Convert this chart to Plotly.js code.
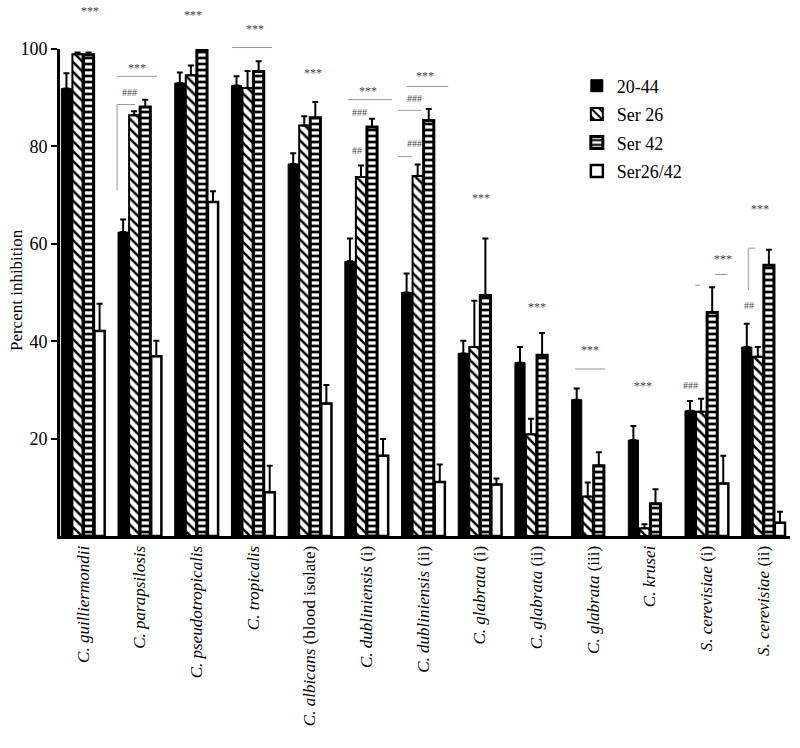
<!DOCTYPE html>
<html>
<head>
<meta charset="utf-8">
<script src="https://cdn.plot.ly/plotly-3.0.1.min.js"></script>
<style>html,body{margin:0;padding:0;background:#fff;}#chart{width:800px;height:748px;}</style>
</head>
<body>
<div id="chart"></div>
<script>
// ---- data ----
const categories = [
  "<i>C. guilliermondii</i>", "<i>C. parapsilosis</i>", "<i>C. pseudotropicalis</i>",
  "<i>C. tropicalis</i>", "<i>C. albicans</i> (blood isolate)", "<i>C. dubliniensis</i> (i)",
  "<i>C. dubliniensis</i> (ii)", "<i>C. glabrata</i> (i)", "<i>C. glabrata</i> (ii)",
  "<i>C. glabrata</i> (iii)", "<i>C. krusei</i>", "<i>S. cerevisiae</i> (i)", "<i>S. cerevisiae</i> (ii)"
];
const seriesNames = ["20-44", "Ser 26", "Ser 42", "Ser26/42"];
const val2044 = [91.9, 62.4, 93.0, 92.5, 76.4, 56.4, 50.0, 37.5, 35.6, 28.0, 19.7, 25.7, 38.8];
const err2044 = [3.1, 2.6, 2.2, 1.9, 2.2, 4.7, 3.9, 2.6, 3.2, 2.3, 2.9, 2.0, 4.8];
const valSer26 = [98.9, 86.4, 94.6, 92.0, 84.3, 73.7, 73.9, 38.8, 20.9, 8.1, 1.6, 25.5, 36.8];
const errSer26 = [0.4, 0.8, 2.0, 3.5, 1.9, 2.4, 2.4, 9.5, 3.2, 2.9, 0.8, 2.7, 2.0];
const valSer42 = [98.8, 88.1, 99.7, 95.4, 85.9, 84.0, 85.3, 49.4, 37.1, 14.4, 6.6, 45.9, 55.6];
const errSer42 = [0.5, 1.5, 0.0, 2.1, 3.2, 1.7, 2.4, 11.7, 4.6, 2.8, 3.0, 5.2, 3.2];
const valSer2642 = [42.1, 36.9, 68.6, 9.0, 27.2, 16.5, 11.1, 10.6, null, null, null, 10.8, 2.7];
const errSer2642 = [5.6, 3.2, 2.2, 5.4, 3.8, 3.4, 3.6, 1.2, null, null, null, 5.7, 2.3];
const yTicks = [20, 40, 60, 80, 100];
const yTitle = "Percent inhibition";

// significance marks: [text, category position, value]
const sigTexts = [
  ["***", 0.124, 107.9], ["***", 0.953, 96.2], ["###", 0.812, 91.1],
  ["***", 1.941, 106.9], ["***", 3.035, 104.2], ["***", 4.059, 95.0],
  ["***", 5.029, 91.3], ["###", 4.870, 87.0], ["##", 4.835, 79.2],
  ["***", 6.035, 94.4], ["###", 5.841, 89.8], ["###", 5.841, 80.6],
  ["***", 7.023, 69.5], ["***", 8.011, 47.0], ["***", 8.947, 38.2],
  ["***", 9.882, 30.8], ["###", 10.711, 31.0], ["***", 11.293, 56.8],
  ["##", 11.752, 47.4], ["***", 11.946, 67.1]
];
// significance lines: [x0, y0, x1, y1] in category position / value
const sigLines = [
  [0.600, 94.4, 1.306, 94.4], [0.600, 88.6, 0.600, 71.0], [0.600, 88.6, 0.918, 88.6],
  [2.629, 100.3, 3.335, 100.3], [4.676, 89.6, 5.453, 89.6], [5.717, 92.3, 6.441, 92.3],
  [5.559, 87.4, 5.964, 87.4], [5.559, 77.9, 5.806, 77.9], [8.682, 34.3, 9.211, 34.3],
  [11.152, 53.7, 11.364, 53.7], [10.800, 51.5, 10.888, 51.5],
  [11.735, 59.1, 11.735, 50.5], [11.735, 59.1, 11.858, 59.1]
];

// ---- chart ----
const FONT = "Liberation Serif";
const xr = [-0.406, 12.47];
const yr = [0, 100];
const px = c => (c - xr[0]) / (xr[1] - xr[0]);
const py = v => (v - yr[0]) / (yr[1] - yr[0]);

function errBar(arr) {
  return {type: "data", symmetric: false, array: arr, arrayminus: arr.map(() => 0),
          color: "#000", thickness: 2, width: 3, visible: true};
}

const traces = [
  {name: seriesNames[0], x: categories, y: val2044, type: "bar", error_y: errBar(err2044),
   marker: {color: "#000", line: {color: "#000", width: 1}}, legendgroup: "a", cliponaxis: false},
  {name: seriesNames[1], x: categories, y: valSer26, type: "bar", error_y: errBar(errSer26),
   marker: {color: "#fff", line: {color: "#000", width: 2},
            pattern: {shape: "\\", fgcolor: "#000", bgcolor: "#fff", size: 7, solidity: 0.35}},
   legendgroup: "b", cliponaxis: false},
  {name: seriesNames[2], x: categories, y: valSer42, type: "bar", error_y: errBar(errSer42),
   marker: {color: "#fff", line: {color: "#000", width: 3},
            pattern: {shape: "-", fgcolor: "#000", bgcolor: "#fff", size: 6, solidity: 0.45}},
   legendgroup: "c", cliponaxis: false},
  {name: seriesNames[3], x: categories, y: valSer2642, type: "bar", error_y: errBar(errSer2642),
   marker: {color: "#fff", line: {color: "#000", width: 2.5}}, legendgroup: "d", cliponaxis: false}
];

const annotations = sigTexts.map(t => ({
  text: t[0], xref: "paper", yref: "paper", x: px(t[1]), y: py(t[2]),
  xanchor: "center", yanchor: "middle",
  showarrow: false, font: {family: FONT, size: t[0][0] === "*" ? 12 : 10, color: "#444"}
}));
annotations.push({
  text: yTitle, xref: "paper", yref: "paper", x: -44 / 730, y: 0.505,
  xanchor: "center", yanchor: "middle", textangle: -90, showarrow: false,
  font: {family: FONT, size: 17, color: "#000"}
});
const shapes = sigLines.map(l => ({
  type: "line", xref: "paper", yref: "paper",
  x0: px(l[0]), y0: py(l[1]), x1: px(l[2]), y1: py(l[3]),
  line: {color: "#999", width: 1}
}));

const layout = {
  width: 800, height: 748,
  margin: {l: 60, r: 10, t: 49, b: 212},
  paper_bgcolor: "#fff", plot_bgcolor: "#fff",
  font: {family: FONT, size: 16, color: "#000"},
  barmode: "group", bargap: 0.22, bargroupgap: 0.08,
  showlegend: true,
  legend: {x: 0.708, y: 0.962, xanchor: "left", yanchor: "top", tracegroupgap: 2,
           font: {family: FONT, size: 18, color: "#000"}, bgcolor: "rgba(0,0,0,0)"},
  xaxis: {type: "category", range: xr, showgrid: false, zeroline: false,
          showline: true, linecolor: "#000", linewidth: 3, ticks: "",
          tickangle: -90, tickfont: {family: FONT, size: 17, color: "#000"}, fixedrange: true},
  yaxis: {range: yr, tickvals: yTicks, showgrid: false, zeroline: false,
          showline: true, linecolor: "#000", linewidth: 3, ticks: "outside", ticklen: 6,
          tickwidth: 2, tickcolor: "#000", tickfont: {family: FONT, size: 18, color: "#000"},
          fixedrange: true},
  annotations: annotations,
  shapes: shapes
};

Plotly.newPlot("chart", traces, layout, {displayModeBar: false, staticPlot: true});
</script>
</body>
</html>
